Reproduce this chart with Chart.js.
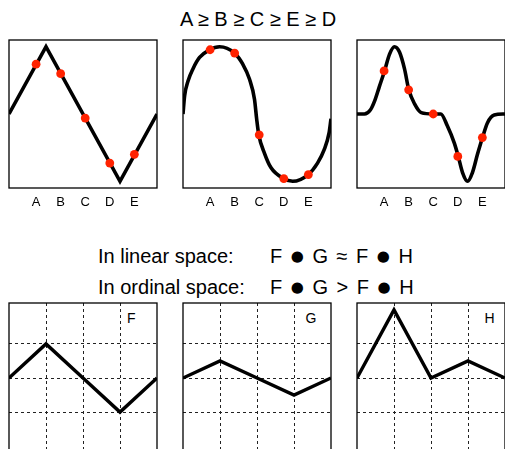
<!DOCTYPE html>
<html><head><meta charset="utf-8">
<script src="https://cdn.jsdelivr.net/npm/chart.js@4/dist/chart.umd.min.js"></script>
<style>
html,body{margin:0;padding:0;background:#fff;overflow:hidden;width:505px;height:449px;}
body{position:relative;font-family:"Liberation Sans",Arial,Helvetica,sans-serif;color:#000;}
canvas{position:absolute;}
.t{position:absolute;white-space:nowrap;font-size:20px;line-height:20px;}
.lab{position:absolute;white-space:nowrap;font-size:14px;line-height:14px;}
.r{position:absolute;left:172px;word-spacing:3px;}
.dot{font-family:"DejaVu Sans",sans-serif;font-size:15px;position:relative;top:-2px;}
</style></head><body>
<div class="t" id="title" style="left:258px;top:9px;transform:translateX(-50%);">A ≥ B ≥ C ≥ E ≥ D</div>
<div class="t" style="left:98px;top:246px;">In linear space:<span class="r">F <span class="dot">●</span> G ≈ F <span class="dot">●</span> H</span></div>
<div class="t" style="left:98px;top:277px;">In ordinal space:<span class="r">F <span class="dot">●</span> G &gt; F <span class="dot">●</span> H</span></div>
<div class="lab" style="left:127px;top:311px;">F</div>
<div class="lab" style="left:305.5px;top:311px;">G</div>
<div class="lab" style="left:484.5px;top:311px;">H</div>
<script>
// ---------- data ----------
const categories = ['A', 'B', 'C', 'D', 'E'];
const categoryX = [0.183, 0.349, 0.515, 0.681, 0.847];

// panel 1: triangle wave
const triX = [0, 0.25, 0.75, 1];
const triY = [0, 1, -1, 0];
const triPoints = [0.74, 0.60, -0.06, -0.73, -0.60];

// panel 2: warped sine
const sineX = [0, 0.011, 0.034, 0.067, 0.112, 0.18, 0.247, 0.348, 0.404, 0.449, 0.483, 0.498, 0.512, 0.55, 0.595, 0.68, 0.741, 0.846, 0.909, 0.954, 0.987, 1];
const sineY = [0, 0.27, 0.49, 0.67, 0.84, 0.955, 1.0, 0.905, 0.74, 0.52, 0.22, -0.08, -0.31, -0.58, -0.80, -0.96, -1.0, -0.90, -0.73, -0.53, -0.28, -0.07];
const sinePoints = [0.955, 0.905, -0.31, -0.96, -0.90];

// panel 3: bumps
const bumpX = [0, 0.05, 0.09, 0.12, 0.15, 0.186, 0.22, 0.253, 0.287, 0.321, 0.35, 0.389, 0.434, 0.515, 0.566, 0.611, 0.657, 0.684, 0.713, 0.747, 0.78, 0.814, 0.848, 0.882, 0.927, 1];
const bumpY = [0, 0, 0.06, 0.2, 0.4, 0.64, 0.89, 1.0, 0.92, 0.67, 0.36, 0.15, 0.02, 0, 0, -0.18, -0.43, -0.63, -0.87, -1.0, -0.87, -0.60, -0.35, -0.13, -0.015, 0];
const bumpPoints = [0.64, 0.36, 0, -0.63, -0.35];

// bottom panels
const gridX = [0, 1, 2, 3, 4];
const seriesF = [0, 1, 0, -1, 0];
const seriesG = [0, 0.5, 0, -0.5, 0];
const seriesH = [0, 2, 0, 0.5, 0];
const gridXTicks = [1, 2, 3];
const gridYTicks = [-1, 0, 1];

// ---------- helpers ----------
const zip = (xs, ys) => xs.map((x, i) => ({x: x, y: ys[i]}));

const boxPlugin = {
  id: 'box',
  beforeDatasetsDraw(chart) {
    const {ctx, chartArea: a} = chart;
    ctx.save();
    ctx.strokeStyle = '#000';
    ctx.lineWidth = 1.3;
    ctx.strokeRect(a.left, a.top, a.right - a.left, a.bottom - a.top);
    ctx.restore();
  }
};

function makeCanvas(left, top, w, h) {
  const c = document.createElement('canvas');
  c.width = w; c.height = h;
  c.style.left = left + 'px'; c.style.top = top + 'px';
  c.style.width = w + 'px'; c.style.height = h + 'px';
  document.body.appendChild(c);
  return c;
}

const PAD = 6;

function topPanel(boxLeft, curveX, curveY, pointsY, smooth) {
  const w = 148, h = 148;
  const c = makeCanvas(boxLeft - PAD, 40 - PAD, w + 2 * PAD, h + PAD + 26);
  new Chart(c, {
    type: 'line',
    data: {
      datasets: [
        {
          data: zip(categoryX, pointsY), showLine: false,
          pointRadius: 4.4, pointBackgroundColor: '#ff2200', pointBorderWidth: 0
        },
        {
          data: zip(curveX, curveY), borderColor: '#000', borderWidth: 3.6,
          pointRadius: 0, fill: false, borderJoinStyle: 'miter',
          cubicInterpolationMode: smooth ? 'monotone' : 'default', tension: 0
        }
      ]
    },
    options: {
      responsive: false, animation: false, events: [],
      layout: {padding: {left: PAD, right: PAD, top: PAD, bottom: 0}},
      plugins: {legend: {display: false}, tooltip: {enabled: false}},
      scales: {
        x: {
          type: 'linear', min: 0, max: 1,
          grid: {display: false, drawTicks: false},
          border: {display: false},
          afterBuildTicks: s => { s.ticks = categoryX.map(v => ({value: v})); },
          afterFit: s => { s.height = 26; },
          ticks: {
            autoSkip: false, maxRotation: 0, padding: 7, color: '#000',
            font: {family: '"Liberation Sans", Arial, sans-serif', size: 13},
            callback: (v, i) => categories[i]
          }
        },
        y: {type: 'linear', min: -1.1, max: 1.1, display: false}
      }
    },
    plugins: [boxPlugin]
  });
}

function bottomPanel(boxLeft, series) {
  const w = 148, h = 150;
  const c = makeCanvas(boxLeft - PAD, 303 - PAD, w + 2 * PAD, h + 2 * PAD);
  const gridStyle = {display: true, drawTicks: false, color: '#222', lineWidth: 1, borderDash: [3, 3]};
  new Chart(c, {
    type: 'line',
    data: {
      datasets: [{
        data: zip(gridX, series), borderColor: '#000', borderWidth: 3.4,
        pointRadius: 0, fill: false, tension: 0, borderJoinStyle: 'miter'
      }]
    },
    options: {
      responsive: false, animation: false, events: [],
      layout: {padding: PAD},
      plugins: {legend: {display: false}, tooltip: {enabled: false}},
      scales: {
        x: {
          type: 'linear', min: 0, max: 4,
          grid: gridStyle, border: {display: false, dash: [3, 3]},
          ticks: {display: false},
          afterBuildTicks: s => { s.ticks = gridXTicks.map(v => ({value: v})); },
          afterFit: s => { s.height = 0; }
        },
        y: {
          type: 'linear', min: -2.2, max: 2.2,
          grid: gridStyle, border: {display: false, dash: [3, 3]},
          ticks: {display: false},
          afterBuildTicks: s => { s.ticks = gridYTicks.map(v => ({value: v})); },
          afterFit: s => { s.width = 0; }
        }
      }
    },
    plugins: [boxPlugin]
  });
}

topPanel(9, triX, triY, triPoints, false);
topPanel(183, sineX, sineY, sinePoints, true);
topPanel(357, bumpX, bumpY, bumpPoints, true);

bottomPanel(9, seriesF);
bottomPanel(183, seriesG);
bottomPanel(357, seriesH);
</script>
</body></html>
